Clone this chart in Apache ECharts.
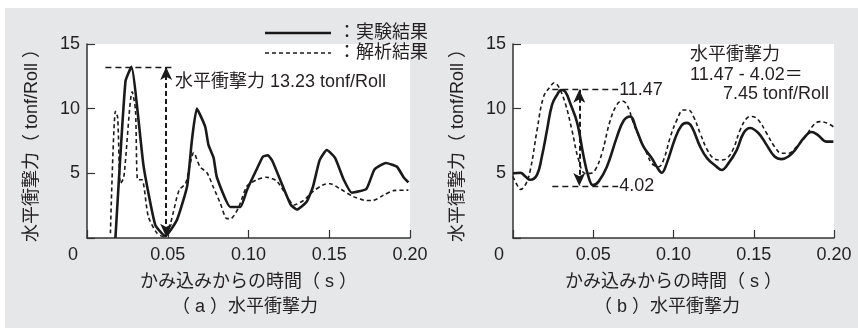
<!DOCTYPE html>
<html><head><meta charset="utf-8">
<script src="https://cdn.jsdelivr.net/npm/echarts@6/dist/echarts.min.js"></script>
<style>
html,body{margin:0;padding:0;background:#fff;}
#bg{position:absolute;left:5px;top:8px;width:853px;height:320px;background:#e6e7e8;}
#c{position:absolute;left:0;top:0;width:858px;height:328px;}
</style></head><body>
<div id="bg"></div><div id="c"></div>
<script>
// ---- data (time in s, force in tonf/Roll) ----
const xTicks = [0, 0.05, 0.10, 0.15, 0.20];
const yTicks = [0, 5, 10, 15];

const aExpT = [0.0176,0.0238,0.0275,0.0351,0.0423,0.0485,0.0557,0.062,0.065,0.068,0.0732,0.0752,0.0784,0.0804,0.0887,0.095,0.099,0.105,0.109,0.112,0.115,0.126,0.130,0.136,0.140,0.144,0.1485,0.1536,0.159,0.164,0.173,0.178,0.185,0.192,0.196,0.199];
const aExpV = [0,12.1,13.23,5.5,1.0,0.15,1.4,4.0,7.6,10.0,8.6,7.2,6.2,4.7,2.4,2.4,3.7,5.3,6.3,6.4,5.9,2.6,2.2,2.8,4.0,6.0,6.8,6.2,4.5,3.5,3.8,5.3,5.8,5.5,4.7,4.3];

const aAnaT = [0.0145,0.0176,0.019,0.0207,0.0228,0.028,0.030,0.0314,0.034,0.038,0.0434,0.0475,0.0516,0.057,0.061,0.064,0.066,0.070,0.0743,0.078,0.0825,0.0866,0.089,0.094,0.099,0.105,0.111,0.1175,0.124,0.128,0.134,0.140,0.146,0.1505,0.1567,0.165,0.173,0.177,0.1835,0.1897,0.199];
const aAnaV = [0.36,9.8,9.3,4.2,4.7,11.3,9.9,4.5,4.5,1.65,0.36,0.1,1.1,3.7,4.2,5.8,6.6,5.5,5.05,4.0,2.7,1.5,1.5,2.4,4.0,4.5,4.7,4.4,3.2,2.55,2.9,3.6,4.1,4.2,3.8,3.2,2.9,2.9,3.3,3.66,3.7];

const bExpT = [0,0.0046,0.0077,0.0108,0.015,0.018,0.0212,0.0243,0.0274,0.030,0.0326,0.0357,0.040,0.044,0.047,0.0498,0.0533,0.0585,0.0647,0.0689,0.073,0.077,0.0813,0.0865,0.0896,0.0927,0.0958,0.101,0.105,0.1083,0.1114,0.1166,0.121,0.127,0.130,0.1342,0.1394,0.1436,0.1477,0.153,0.158,0.163,0.1674,0.1716,0.1757,0.181,0.186,0.190,0.1954,0.1996];
const bExpV = [5.0,5.05,4.75,4.5,4.9,6.3,8.35,10.3,11.06,11.44,11.3,10.4,8.9,6.3,4.75,4.1,4.36,5.5,7.8,9.07,9.4,8.35,7.06,6.16,5.5,5.05,5.77,7.7,8.7,8.9,8.6,7.06,6.16,5.5,5.26,5.77,6.8,8.1,8.5,8.1,7.2,6.3,6.1,6.3,6.8,7.7,8.2,7.96,7.45,7.45];

const bAnaT = [0,0.0025,0.0046,0.0077,0.0108,0.015,0.019,0.0232,0.0257,0.0284,0.0326,0.0367,0.0409,0.045,0.048,0.0512,0.0554,0.0606,0.0647,0.0678,0.071,0.075,0.0793,0.0834,0.0865,0.0907,0.0938,0.098,0.102,0.1062,0.1093,0.1124,0.1166,0.1207,0.1249,0.129,0.1332,0.1373,0.1415,0.1456,0.1488,0.153,0.158,0.163,0.1674,0.1716,0.1768,0.182,0.187,0.191,0.1954,0.1996];
const bAnaV = [4.75,4.1,3.76,4.1,5.26,8.35,10.9,11.7,12.0,11.7,10.4,8.35,6.03,5.0,5.0,5.26,6.55,9.1,10.3,10.6,10.3,8.9,7.6,6.55,5.77,5.5,6.03,7.8,9.1,9.9,9.9,9.4,8.1,6.9,6.16,6.03,6.16,6.9,8.35,9.25,9.4,9.1,8.1,7.06,6.55,6.55,7.06,7.8,8.7,9.0,8.9,8.6];

const aPeak = 13.23;
const bMax = 11.47, bMin = 4.02, bDiff = 7.45;

// ---- chart ----
const FONT = '"Liberation Sans","Noto Sans CJK JP",sans-serif';
const TXT = '#231f20';
const zip = (t, v) => t.map((x, i) => [x, v[i]]);

function xAxis(gi) {
  return {
    type: 'value', gridIndex: gi, min: xTicks[0], max: xTicks[xTicks.length-1], interval: 0.05,
    name: 'かみ込みからの時間（ s ）', nameLocation: 'middle', nameGap: 35,
    nameTextStyle: {fontSize: 18, color: TXT, fontFamily: FONT},
    axisLine: {show: true, lineStyle: {color: '#333', width: 1.5}},
    axisTick: {show: true, inside: true, length: 8, lineStyle: {color: '#333', width: 1.2}},
    splitLine: {show: false},
    axisLabel: {
      fontSize: 18, color: TXT, fontFamily: FONT, margin: 8,
      formatter: v => v === 0 ? '{z|0}' : v.toFixed(2),
      rich: {z: {fontSize: 18, color: TXT, fontFamily: FONT, padding: [0, 28, 0, 0]}}
    }
  };
}
function yAxis(gi) {
  return {
    type: 'value', gridIndex: gi, min: yTicks[0], max: yTicks[yTicks.length-1], interval: 5,
    name: '水平衝撃力（ tonf/Roll ）', nameLocation: 'middle', nameGap: 46, nameRotate: 90,
    nameTextStyle: {fontSize: 18, color: TXT, fontFamily: FONT},
    axisLine: {show: true, lineStyle: {color: '#333', width: 1.5}},
    axisTick: {show: true, inside: true, length: 8, lineStyle: {color: '#333', width: 1.2}},
    splitLine: {show: false},
    axisLabel: {fontSize: 18, color: TXT, fontFamily: FONT, margin: 7,
      formatter: v => v === 0 ? '' : String(v)}
  };
}
const solid = {color: '#1a1a1a', width: 2.6};
const dashed = {color: '#1a1a1a', width: 1.6, type: [4, 3]};
const dashAnn = {color: '#1a1a1a', width: 1.4, type: [6, 4]};
const arrowAnn = {color: '#1a1a1a', width: 2, type: [5, 3]};

function lineSeries(gi, data, style, smooth, markLine) {
  const s = {
    type: 'line', xAxisIndex: gi, yAxisIndex: gi, data: data, showSymbol: false,
    symbol: 'none', smooth: smooth, lineStyle: style, animation: false, silent: true, clip: true, z: 3
  };
  if (markLine) s.markLine = markLine;
  return s;
}

const aMark = {
  silent: true, animation: false, symbol: ['none', 'none'],
  label: {show: false},
  data: [
    [{coord: [0.0114, aPeak], lineStyle: dashAnn}, {coord: [0.0535, aPeak]}],
    [{coord: [0.049, aPeak], symbol: 'arrow', symbolSize: [9, 13], lineStyle: arrowAnn},
     {coord: [0.049, 0.1], symbol: 'arrow', symbolSize: [9, 13]}]
  ]
};
const bMark = {
  silent: true, animation: false, symbol: ['none', 'none'],
  label: {show: true, position: 'end', distance: 1, fontSize: 18, color: TXT, fontFamily: FONT},
  data: [
    [{coord: [0.0245, bMax], lineStyle: dashAnn, label: {formatter: bMax.toFixed(2)}}, {coord: [0.0655, bMax]}],
    [{coord: [0.0245, bMin], lineStyle: dashAnn, label: {formatter: bMin.toFixed(2)}}, {coord: [0.0655, bMin]}],
    [{coord: [0.0413, bMax], symbol: 'arrow', symbolSize: [9, 13], lineStyle: arrowAnn, label: {show: false}},
     {coord: [0.0413, bMin], symbol: 'arrow', symbolSize: [9, 13]}]
  ]
};

const ts = {fontSize: 18, fill: TXT, fontFamily: FONT};
const chart = echarts.init(document.getElementById('c'), null, {renderer: 'canvas'});
chart.setOption({
  backgroundColor: 'transparent',
  textStyle: {fontFamily: FONT},
  grid: [
    {left: 87, top: 44, width: 323, height: 194, show: true, backgroundColor: '#fff', borderWidth: 0},
    {left: 513, top: 44, width: 321, height: 194, show: true, backgroundColor: '#fff', borderWidth: 0}
  ],
  xAxis: [xAxis(0), xAxis(1)],
  yAxis: [yAxis(0), yAxis(1)],
  series: [
    lineSeries(0, zip(aAnaT, aAnaV), dashed, 0.25),
    lineSeries(0, zip(aExpT, aExpV), solid, 0.15, aMark),
    lineSeries(1, zip(bAnaT, bAnaV), dashed, 0.4),
    lineSeries(1, zip(bExpT, bExpV), solid, 0.4, bMark)
  ],
  graphic: [
    {type: 'line', shape: {x1: 265, y1: 33, x2: 331, y2: 33}, style: {stroke: '#1a1a1a', lineWidth: 2.6}, z: 10},
    {type: 'line', shape: {x1: 265, y1: 53, x2: 331, y2: 53}, style: {stroke: '#1a1a1a', lineWidth: 1.6, lineDash: [4, 3]}, z: 10},
    {type: 'text', x: 338, y: 33, style: Object.assign({text: '：実験結果', verticalAlign: 'middle'}, ts), z: 10},
    {type: 'text', x: 338, y: 53, style: Object.assign({text: '：解析結果', verticalAlign: 'middle'}, ts), z: 10},
    {type: 'text', x: 175, y: 82, style: Object.assign({text: '水平衝撃力 ' + aPeak.toFixed(2) + ' tonf/Roll', verticalAlign: 'middle'}, ts), z: 10},
    {type: 'text', x: 690, y: 55, style: Object.assign({text: '水平衝撃力', verticalAlign: 'middle'}, ts), z: 10},
    {type: 'text', x: 690, y: 75, style: Object.assign({text: bMax.toFixed(2) + ' - ' + bMin.toFixed(2) + '＝', verticalAlign: 'middle'}, ts), z: 10},
    {type: 'text', x: 829, y: 94, style: Object.assign({text: bDiff.toFixed(2) + ' tonf/Roll', verticalAlign: 'middle', align: 'right'}, ts), z: 10},
    {type: 'text', x: 245, y: 307, style: Object.assign({text: '（ a ）水平衝撃力', verticalAlign: 'middle', align: 'center'}, ts), z: 10},
    {type: 'text', x: 667, y: 307, style: Object.assign({text: '（ b ）水平衝撃力', verticalAlign: 'middle', align: 'center'}, ts), z: 10}
  ]
});
</script></body></html>
